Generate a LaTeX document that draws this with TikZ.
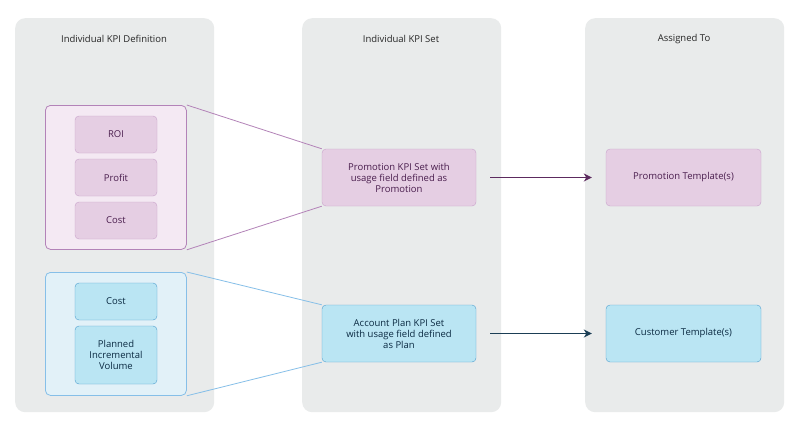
\documentclass[tikz,border=0pt]{standalone}
\usepackage{fontspec}
\setmainfont{Open Sans}
\usetikzlibrary{arrows.meta,positioning}
\definecolor{pn}{HTML}{E9EBEB}
\definecolor{pf}{HTML}{F4E9F3}
\definecolor{pd}{HTML}{B383B8}
\definecolor{pc}{HTML}{E5CEE3}
\definecolor{pb}{HTML}{C9A3CB}
\definecolor{pt}{HTML}{4A1E4E}
\definecolor{bf}{HTML}{E2F1F8}
\definecolor{bd}{HTML}{86BFE8}
\definecolor{bc}{HTML}{BAE5F3}
\definecolor{bb}{HTML}{4F9FCF}
\definecolor{bt}{HTML}{0B2A42}
\definecolor{pa}{HTML}{5C2A5E}
\definecolor{ba}{HTML}{1B3E55}
\tikzset{
  panel/.style={fill=pn, draw=none, rounded corners=10pt, minimum width=199pt, minimum height=394pt, anchor=north west},
  head/.style={font=\fontsize{9.5}{11}\selectfont, text=black!85},
  pbox/.style={fill=pc, draw=pb, rounded corners=4pt, text=pt, align=center, font=\fontsize{9.5}{11}\selectfont, inner sep=2pt},
  bbox/.style={fill=bc, draw=bb, rounded corners=4pt, text=bt, align=center, font=\fontsize{9.5}{11}\selectfont, inner sep=2pt},
}
\begin{document}
\begin{tikzpicture}[x=1pt, y=-1pt]

  % Background
  \useasboundingbox[fill=white] (0,0) rectangle (800,432);

  % Panels
  \node[panel] (p1) at (15,18) {};
  \node[panel] (p2) at (302,18) {};
  \node[panel] (p3) at (585,18) {};
  \node[head] at (114,39) {Individual KPI Definition};
  \node[head] at (401,39) {Individual KPI Set};
  \node[head] at (684,39) {Assigned To};

  % Purple group
  \node[fill=pf, draw=pd, thick, rounded corners=5pt, minimum width=141pt, minimum height=144pt, anchor=north west] (pg) at (45,105) {};
  \node[pbox, minimum width=82pt, minimum height=37pt] (roi) at (116,134.5) {ROI};
  \node[pbox, minimum width=82pt, minimum height=37pt] (profit) at (116,177.5) {Profit};
  \node[pbox, minimum width=82pt, minimum height=37pt] (cost1) at (116,220.5) {Cost};

  % Blue group
  \node[fill=bf, draw=bd, thick, rounded corners=5pt, minimum width=141pt, minimum height=123pt, anchor=north west] (bg) at (45,272) {};
  \node[bbox, minimum width=82pt, minimum height=37pt] (cost2) at (116,301.5) {Cost};
  \node[bbox, minimum width=82pt, minimum height=58pt] (vol) at (116,355) {Planned\\Incremental\\Volume};

  % KPI sets
  \node[pbox, minimum width=154pt, minimum height=57pt] (promo) at (399,177.5) {Promotion KPI Set with\\usage field defined as\\Promotion};
  \node[bbox, minimum width=154pt, minimum height=57pt] (plan) at (399,333.5) {Account Plan KPI Set\\with usage field defined\\as Plan};

  % Templates
  \node[pbox, minimum width=155pt, minimum height=57pt] (ptpl) at (683.5,177.5) {Promotion Template(s)};
  \node[bbox, minimum width=155pt, minimum height=57pt] (ctpl) at (683.5,333.5) {Customer Template(s)};

  % Zoom lines
  \draw[pd, thick] (pg.north east) -- (promo.north west);
  \draw[pd, thick] (pg.south east) -- (promo.south west);
  \draw[bd, thick] (bg.north east) -- (plan.north west);
  \draw[bd, thick] (bg.south east) -- (plan.south west);

  % Arrows
  \draw[pa, line width=1.6pt, -{Stealth[length=8pt,width=8pt]}] ([xshift=14pt]promo.east) -- ([xshift=-14pt]ptpl.west);
  \draw[ba, line width=1.6pt, -{Stealth[length=8pt,width=8pt]}] ([xshift=14pt]plan.east) -- ([xshift=-14pt]ctpl.west);
\end{tikzpicture}
\end{document}
